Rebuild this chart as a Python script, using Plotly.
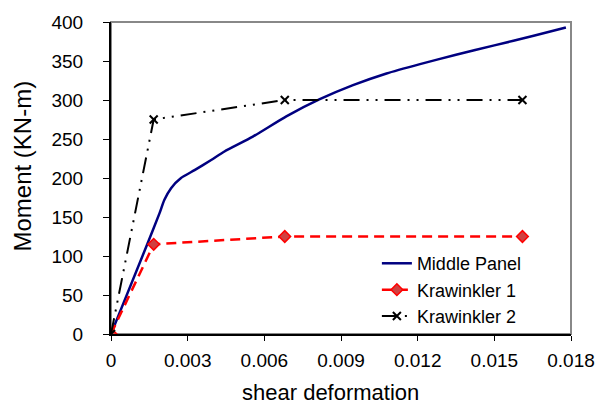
import plotly.graph_objects as go

# Data
mp_x = [0, 0.00143, 0.0019, 0.00209, 0.00235, 0.00274, 0.00327, 0.00392, 0.00444, 0.00555,
        0.00686, 0.00817, 0.00947, 0.01078, 0.01209, 0.0135, 0.015, 0.0165, 0.0178]
mp_y = [0, 116, 155, 172, 187, 200, 210, 223, 234, 253, 279, 301, 319, 334, 346, 358, 370, 382, 393]

k1_x = [0, 0.00167, 0.0068, 0.0161]
k1_y = [0, 115, 125, 125]

k2_x = [0, 0.00167, 0.0068, 0.0161]
k2_y = [0, 275, 300, 300]

x_ticks = [0, 0.003, 0.006, 0.009, 0.012, 0.015, 0.018]
x_tick_labels = ["0", "0.003", "0.006", "0.009", "0.012", "0.015", "0.018"]
y_ticks = [0, 50, 100, 150, 200, 250, 300, 350, 400]

FONT = "Liberation Sans, Arial, sans-serif"

fig = go.Figure()
fig.add_trace(go.Scatter(x=mp_x, y=mp_y, mode="lines", name="Middle Panel",
                         line=dict(color="#000080", width=2.5, shape="spline", smoothing=0.6)))
fig.add_trace(go.Scatter(x=k1_x, y=k1_y, mode="lines+markers", name="Krawinkler 1",
                         line=dict(color="#FF0000", width=2.5, dash="10px,6px"),
                         marker=dict(symbol="diamond", size=9, color="#D04040",
                                     line=dict(color="#FF0000", width=1.5))))
fig.add_trace(go.Scatter(x=k2_x, y=k2_y, mode="lines+markers", name="Krawinkler 2",
                         line=dict(color="#000000", width=2, dash="16px,7px,2px,7px,2px,7px"),
                         marker=dict(symbol="x-thin", size=8, color="#000000",
                                     line=dict(color="#000000", width=2))))

fig.add_shape(type="rect", xref="paper", yref="paper", x0=0, x1=1, y0=0, y1=1,
              line=dict(color="#888888", width=2), layer="below")

fig.add_annotation(text="shear deformation", xref="paper", yref="paper",
                   x=0.477, y=-0.187, xanchor="center", yanchor="middle",
                   showarrow=False, font=dict(size=22))
fig.add_annotation(text="Moment (KN-m)", xref="paper", yref="paper",
                   x=-0.1927, y=0.538, xanchor="center", yanchor="middle",
                   textangle=-90, showarrow=False, font=dict(size=24))

fig.update_layout(
    template="none",
    width=597, height=405, autosize=False,
    margin=dict(l=111, r=26, t=22, b=71, pad=0),
    paper_bgcolor="white", plot_bgcolor="white",
    font=dict(family=FONT, size=18, color="#000000"),
    showlegend=True,
    legend=dict(x=0.578, xanchor="left", y=0.285, yanchor="top",
                bgcolor="rgba(0,0,0,0)", font=dict(size=18), tracegroupgap=0),
    xaxis=dict(range=[0, 0.018], tickvals=x_ticks, ticktext=x_tick_labels,
               automargin=False,
               showgrid=False, zeroline=False, showline=True, linecolor="#000000",
               linewidth=2, ticks="outside", ticklen=5, tickcolor="#000000",
               tickfont=dict(size=19), ticklabelstandoff=3),
    yaxis=dict(range=[0, 400], tickvals=y_ticks, automargin=False,
               showgrid=False, zeroline=False, showline=True, linecolor="#000000",
               linewidth=2, ticks="outside", ticklen=6, tickcolor="#000000",
               tickfont=dict(size=19), ticklabelstandoff=16),
)

fig.write_html("out.html")
